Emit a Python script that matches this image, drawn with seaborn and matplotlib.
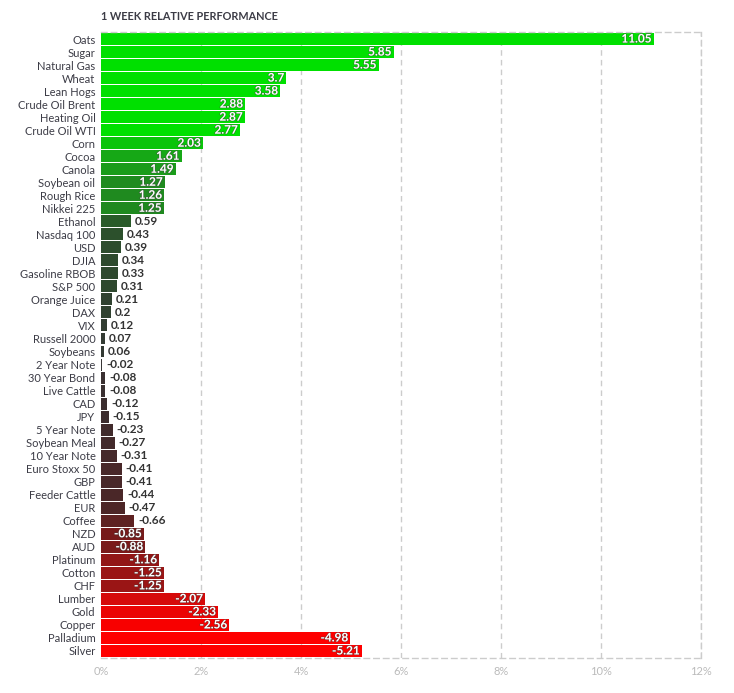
import matplotlib
matplotlib.use("Agg")
import matplotlib.pyplot as plt
import matplotlib.patheffects as pe
import seaborn as sns
import pandas as pd
import numpy as np

names = ["Oats", "Sugar", "Natural Gas", "Wheat", "Lean Hogs", "Crude Oil Brent",
         "Heating Oil", "Crude Oil WTI", "Corn", "Cocoa", "Canola", "Soybean oil",
         "Rough Rice", "Nikkei 225", "Ethanol", "Nasdaq 100", "USD", "DJIA",
         "Gasoline RBOB", "S&P 500", "Orange Juice", "DAX", "VIX", "Russell 2000",
         "Soybeans", "2 Year Note", "30 Year Bond", "Live Cattle", "CAD", "JPY",
         "5 Year Note", "Soybean Meal", "10 Year Note", "Euro Stoxx 50", "GBP",
         "Feeder Cattle", "EUR", "Coffee", "NZD", "AUD", "Platinum", "Cotton", "CHF",
         "Lumber", "Gold", "Copper", "Palladium", "Silver"]
values = [11.05, 5.85, 5.55, 3.7, 3.58, 2.88, 2.87, 2.77, 2.03, 1.61, 1.49, 1.27,
          1.26, 1.25, 0.59, 0.43, 0.39, 0.34, 0.33, 0.31, 0.21, 0.2, 0.12, 0.07,
          0.06, -0.02, -0.08, -0.08, -0.12, -0.15, -0.23, -0.27, -0.31, -0.41, -0.41,
          -0.44, -0.47, -0.66, -0.85, -0.88, -1.16, -1.25, -1.25, -2.07, -2.33,
          -2.56, -4.98, -5.21]
value_labels = ["11.05", "5.85", "5.55", "3.7", "3.58", "2.88", "2.87", "2.77", "2.03",
                "1.61", "1.49", "1.27", "1.26", "1.25", "0.59", "0.43", "0.39", "0.34",
                "0.33", "0.31", "0.21", "0.2", "0.12", "0.07", "0.06", "-0.02", "-0.08",
                "-0.08", "-0.12", "-0.15", "-0.23", "-0.27", "-0.31", "-0.41", "-0.41",
                "-0.44", "-0.47", "-0.66", "-0.85", "-0.88", "-1.16", "-1.25", "-1.25",
                "-2.07", "-2.33", "-2.56", "-4.98", "-5.21"]
x_ticks = [0, 2, 4, 6, 8, 10, 12]
x_tick_labels = ["0%", "2%", "4%", "6%", "8%", "10%", "12%"]
title = "1 WEEK RELATIVE PERFORMANCE"

# colour scale anchors (value -> colour)
anchor_vals = [-5.21, -2.5, -2.07, -1.2, -0.86, -0.66, -0.44, -0.27, -0.1, 0.0,
               0.06, 0.3, 1.26, 1.49, 1.61, 2.03, 2.77, 11.05]
anchor_cols = ["#ff0000", "#f80000", "#d60a0a", "#961616", "#781a1a", "#5e2222",
               "#4a2728", "#432a2b", "#3a2e2f", "#383838", "#333a33", "#2e472e",
               "#1f8a1f", "#1a9c1a", "#16a816", "#0ac40a", "#00e000", "#00e000"]


def color_for(v):
    rgb = np.array([matplotlib.colors.to_rgb(c) for c in anchor_cols])
    return tuple(np.interp(v, anchor_vals, rgb[:, i]) for i in range(3))


palette = {n: color_for(v) for n, v in zip(names, values)}

df = pd.DataFrame({"name": names, "value": values,
                   "size": np.abs(values), "label": value_labels})

sns.set_theme(style="white")
plt.rcParams["font.family"] = ["Lato", "DejaVu Sans"]

fig = plt.figure(figsize=(7.34, 6.93), dpi=100)
ax = fig.add_axes([101 / 734, 1 - 658 / 693, 600 / 734, 626 / 693])

sns.barplot(data=df, y="name", x="size", hue="name", palette=palette,
            legend=False, width=0.92, ax=ax, saturation=1, orient="h",
            linewidth=0, edgecolor="none")

ax.set_xlim(0, 12)
ax.set_ylim(len(names) - 0.5 + 0.04, -0.54)
ax.set_xlabel("")
ax.set_ylabel("")
ax.set_xticks(x_ticks)
ax.set_xticklabels(x_tick_labels, color="#bbbbbb", fontsize=8)
ax.tick_params(axis="x", length=4, color="#cccccc", width=1, pad=2)
ax.tick_params(axis="y", length=0, labelsize=8, labelcolor="#3c3c46", pad=4)
for x in x_ticks[1:]:
    ax.axvline(x, color="#cccccc", lw=1, ls=(0, (4, 3)), zorder=0)
for s in ["top", "bottom", "right"]:
    ax.spines[s].set_color("#cccccc")
    ax.spines[s].set_linestyle((0, (4, 3)))
    ax.spines[s].set_linewidth(1)
ax.spines["left"].set_visible(False)

for i, (v, lab) in enumerate(zip(values, value_labels)):
    a = abs(v)
    if a >= 0.8:
        ax.text(a - 0.04, i, lab, ha="right", va="center", fontsize=8.5,
                fontweight="bold", color="white",
                path_effects=[pe.withStroke(linewidth=0.9, foreground="#444444",
                                            alpha=0.6)])
    else:
        ax.text(a + 0.08, i, lab, ha="left", va="center", fontsize=8.5,
                fontweight="bold", color="#333333")

fig.text(101 / 734, 1 - 16 / 693, title, fontsize=7.8, fontweight="bold",
         color="#3c3c46", ha="left", va="center")

fig.savefig("out.png", dpi=100)
